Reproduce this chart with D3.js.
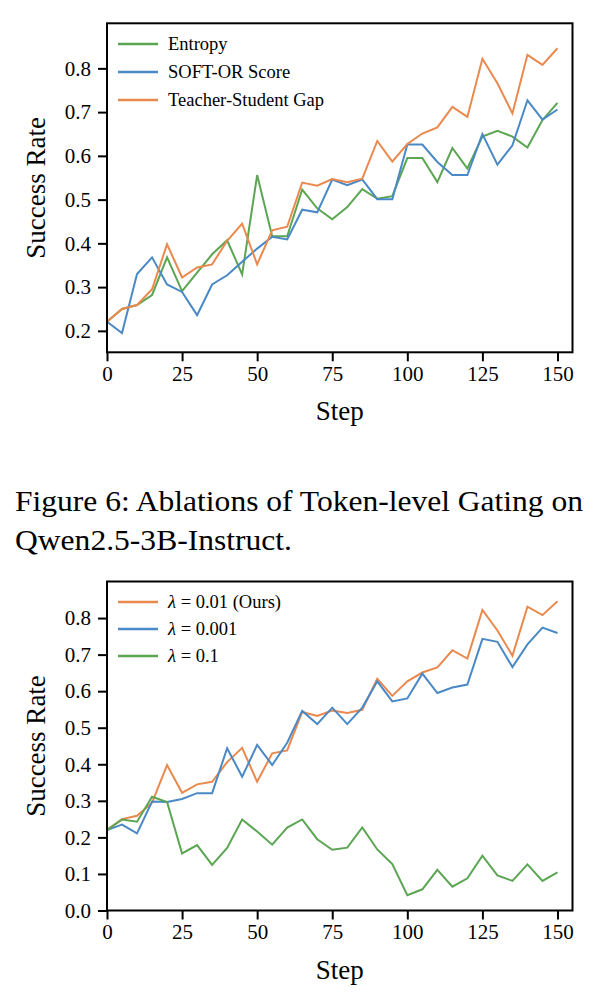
<!DOCTYPE html>
<html>
<head>
<meta charset="utf-8">
<title>Ablations of Token-level Gating</title>
<script src="https://cdn.jsdelivr.net/npm/d3@7"></script>
<style>
  body { margin: 0; background: #fff; }
  svg text { font-family: "Liberation Serif", "DejaVu Serif", serif; fill: #000; }
</style>
</head>
<body>
<svg id="fig" width="601" height="1002"></svg>
<script>
// x values (training step)
var steps = [0, 5, 10, 15, 20, 25, 30, 35, 40, 45, 50, 55, 60, 65, 70, 75,
             80, 85, 90, 95, 100, 105, 110, 115, 120, 125, 130, 135, 140, 145, 150];
var xTicks = [0, 25, 50, 75, 100, 125, 150];

// top panel: gating signal ablation
var entropy = [0.221, 0.250, 0.259, 0.282, 0.368, 0.291, 0.333, 0.375, 0.407, 0.329, 0.556,
               0.416, 0.416, 0.523, 0.480, 0.455, 0.483, 0.524, 0.502, 0.508, 0.595, 0.595,
               0.540, 0.618, 0.571, 0.644, 0.657, 0.644, 0.619, 0.682, 0.721];
var softOr = [0.221, 0.195, 0.330, 0.368, 0.306, 0.289, 0.236, 0.306, 0.327, 0.358, 0.388,
              0.415, 0.409, 0.477, 0.471, 0.546, 0.533, 0.546, 0.501, 0.501, 0.626, 0.626,
              0.586, 0.556, 0.556, 0.650, 0.580, 0.624, 0.727, 0.683, 0.706];
var tsGap = [0.221, 0.250, 0.259, 0.295, 0.398, 0.322, 0.345, 0.352, 0.406, 0.445, 0.352,
             0.430, 0.438, 0.539, 0.532, 0.547, 0.540, 0.548, 0.634, 0.587, 0.627, 0.651,
             0.665, 0.712, 0.689, 0.822, 0.766, 0.697, 0.831, 0.808, 0.846];
var topYTicks = [0.2, 0.3, 0.4, 0.5, 0.6, 0.7, 0.8];

// bottom panel: lambda ablation
var lam001 = [0.221, 0.250, 0.259, 0.295, 0.398, 0.322, 0.345, 0.352, 0.406, 0.445, 0.352,
              0.430, 0.438, 0.543, 0.532, 0.547, 0.540, 0.549, 0.634, 0.587, 0.627, 0.651,
              0.665, 0.712, 0.689, 0.822, 0.766, 0.697, 0.831, 0.808, 0.846];
var lam0001 = [0.220, 0.235, 0.211, 0.298, 0.297, 0.305, 0.321, 0.321, 0.444, 0.366, 0.453,
               0.398, 0.459, 0.546, 0.510, 0.555, 0.510, 0.555, 0.627, 0.572, 0.580, 0.648,
               0.595, 0.610, 0.618, 0.743, 0.735, 0.666, 0.728, 0.774, 0.759];
var lam01 = [0.220, 0.249, 0.243, 0.311, 0.297, 0.156, 0.179, 0.125, 0.171, 0.249, 0.216,
             0.180, 0.227, 0.249, 0.195, 0.166, 0.172, 0.227, 0.167, 0.127, 0.042, 0.058,
             0.111, 0.065, 0.088, 0.150, 0.096, 0.081, 0.126, 0.081, 0.104];
var botYTicks = [0.0, 0.1, 0.2, 0.3, 0.4, 0.5, 0.6, 0.7, 0.8];

var GREEN = "#5ba553", BLUE = "#4a89c6", ORANGE = "#ea894e";
var SERIF = "'Liberation Serif', 'DejaVu Serif', serif";

var svg = d3.select("#fig");
svg.append("rect").attr("width", 601).attr("height", 1002).attr("fill", "#fff");

function panel(top, yDomain, yTicks, series, legendTop) {
  var left = 107, right = 572.5, bottom = top + 329;
  var x = d3.scaleLinear().domain([0, 155]).range([left, right]);
  var y = d3.scaleLinear().domain(yDomain).range([bottom, top]);
  var g = svg.append("g");

  var line = d3.line().x(function (d) { return x(d[0]); }).y(function (d) { return y(d[1]); });
  series.forEach(function (s) {
    g.append("path")
      .datum(steps.map(function (t, i) { return [t, s.values[i]]; }))
      .attr("d", line)
      .attr("fill", "none")
      .attr("stroke", s.color)
      .attr("stroke-width", 2)
      .attr("stroke-linejoin", "miter");
  });

  var xAxis = g.append("g").attr("transform", "translate(0," + bottom + ")")
    .call(d3.axisBottom(x).tickValues(xTicks).tickSize(9).tickPadding(5).tickFormat(d3.format("d")));
  var yAxis = g.append("g").attr("transform", "translate(" + left + ",0)")
    .call(d3.axisLeft(y).tickValues(yTicks).tickSize(9).tickPadding(7).tickFormat(d3.format(".1f")));
  [xAxis, yAxis].forEach(function (a) {
    a.attr("font-family", SERIF).attr("font-size", 21);
    a.select(".domain").remove();
    a.selectAll(".tick line").attr("stroke", "#000").attr("stroke-width", 2);
    a.selectAll(".tick text").attr("font-family", SERIF).attr("font-size", 21).attr("fill", "#000");
  });

  g.append("rect")
    .attr("x", left).attr("y", top)
    .attr("width", right - left).attr("height", bottom - top)
    .attr("fill", "none").attr("stroke", "#000").attr("stroke-width", 2);

  g.append("text")
    .attr("x", (left + right) / 2).attr("y", bottom + 68)
    .attr("text-anchor", "middle").attr("font-family", SERIF).attr("font-size", 27)
    .text("Step");
  g.append("text")
    .attr("transform", "translate(45," + ((top + bottom) / 2) + ") rotate(-90)")
    .attr("text-anchor", "middle").attr("font-family", SERIF).attr("font-size", 27)
    .text("Success Rate");

  var leg = g.append("g").attr("font-family", SERIF);
  series.forEach(function (s, i) {
    var ly = legendTop + i * s.gap;
    leg.append("line").attr("x1", 118).attr("x2", 158).attr("y1", ly).attr("y2", ly)
      .attr("stroke", s.color).attr("stroke-width", 2.5);
    var t = leg.append("text").attr("x", 168).attr("y", ly + 6)
      .attr("font-family", SERIF).attr("font-size", 18.5);
    if (s.lambda) {
      t.append("tspan").attr("font-style", "italic").text("\u03bb");
      t.append("tspan").text(" = " + s.lambda);
    } else {
      t.text(s.name);
    }
  });
  return g;
}

// draw order follows the legend
panel(23.3, [0.151, 0.903], topYTicks, [
  { name: "Entropy", values: entropy, color: GREEN, gap: 28 },
  { name: "SOFT-OR Score", values: softOr, color: BLUE, gap: 28 },
  { name: "Teacher-Student Gap", values: tsGap, color: ORANGE, gap: 28 }
], 44);

panel(581.5, [0, 0.9], botYTicks, [
  { lambda: "0.01 (Ours)", values: lam001, color: ORANGE, gap: 27 },
  { lambda: "0.001", values: lam0001, color: BLUE, gap: 27 },
  { lambda: "0.1", values: lam01, color: GREEN, gap: 27 }
], 602);

// caption between the panels
var cap = svg.append("g").attr("font-family", SERIF).attr("font-size", 30);
cap.append("text").attr("x", 15).attr("y", 511)
  .attr("font-family", SERIF)
  .attr("textLength", 568).attr("lengthAdjust", "spacingAndGlyphs")
  .text("Figure 6: Ablations of Token-level Gating on");
cap.append("text").attr("x", 15).attr("y", 550)
  .attr("font-family", SERIF)
  .attr("textLength", 277).attr("lengthAdjust", "spacingAndGlyphs")
  .text("Qwen2.5-3B-Instruct.");
</script>
</body>
</html>
